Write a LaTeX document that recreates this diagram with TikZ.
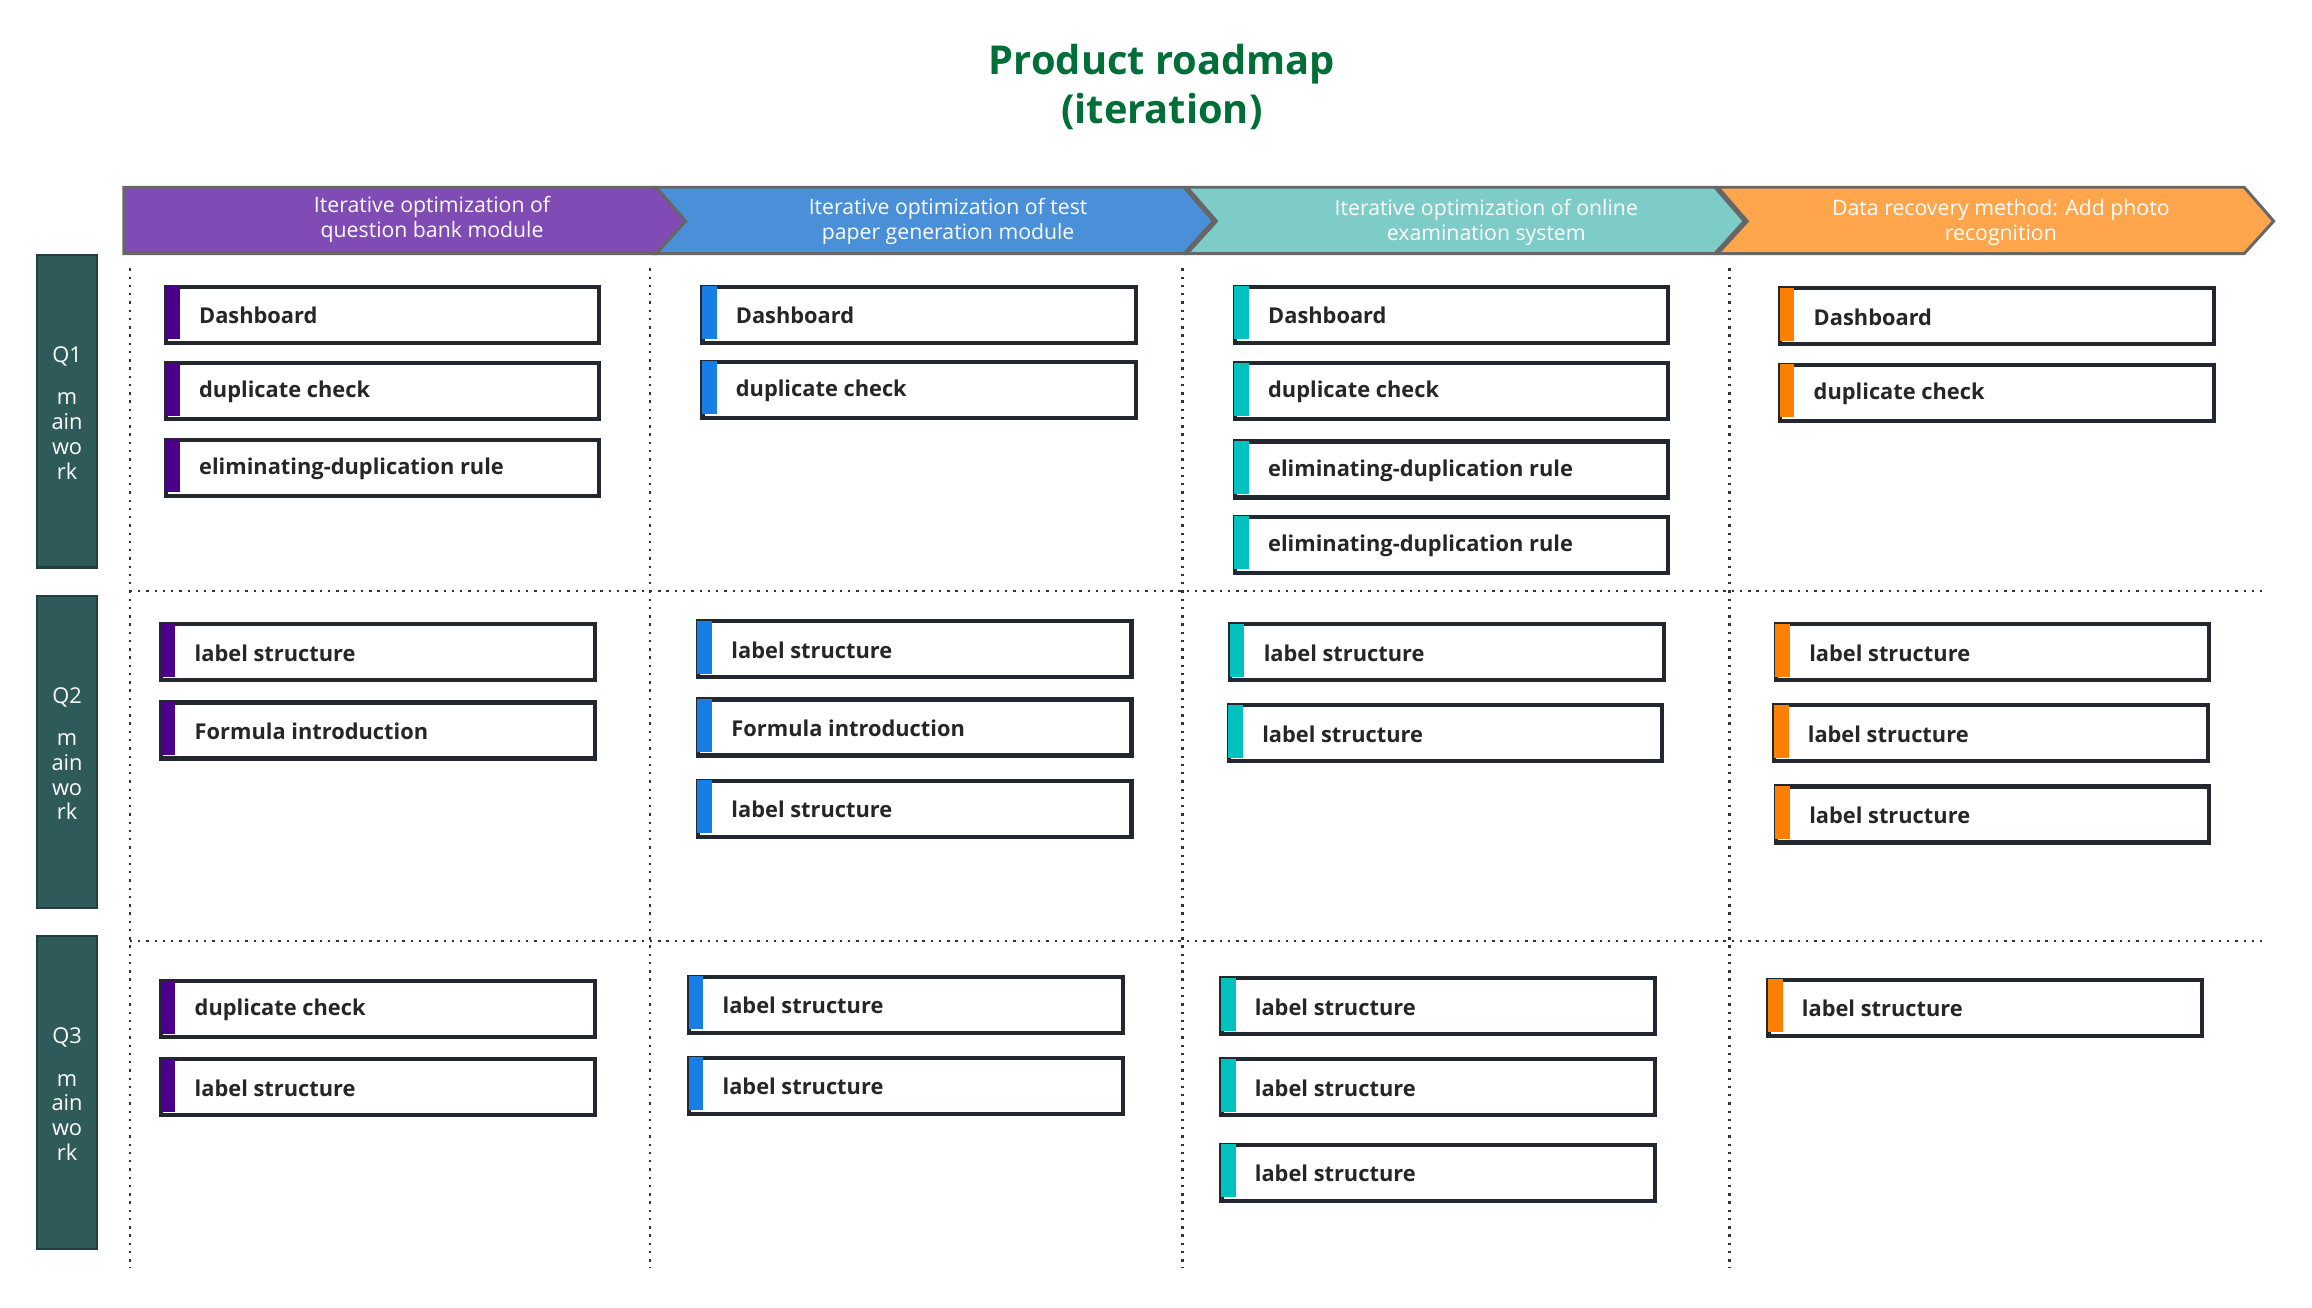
\documentclass[tikz,border=0pt]{standalone}
\usepackage{fontspec}
\setmainfont{Open Sans}
\usepackage{xcolor}
\usepackage{tikz}

\definecolor{titlegreen}{RGB}{0,110,55}
\definecolor{lanegray}{RGB}{47,90,90}
\definecolor{cpurple}{RGB}{128,75,180}
\definecolor{cblue}{RGB}{74,144,217}
\definecolor{cteal}{RGB}{126,204,200}
\definecolor{corange}{RGB}{255,166,77}
\definecolor{spurple}{RGB}{75,0,140}
\definecolor{sblue}{RGB}{24,126,230}
\definecolor{steal}{RGB}{0,192,192}
\definecolor{sorange}{RGB}{255,128,0}
\definecolor{boxline}{RGB}{35,40,48}

\tikzset{
	task/.style={draw=boxline, line width=1.4pt, fill=white, anchor=north west, inner sep=0pt,
		minimum width=147pt, minimum height=19pt},
	tasktext/.style={anchor=west, font=\fontsize{7.4}{8}\selectfont\bfseries, text=black!85},
	stage/.style={draw=gray!80!black, line width=1pt},
	stagetext/.style={text=white, align=center, font=\fontsize{7.2}{8.4}\selectfont},
	lane/.style={fill=lanegray, draw=lanegray!70!black, line width=0.8pt},
	lanetext/.style={text=white, align=center, font=\fontsize{7.4}{8.4}\selectfont},
	grid/.style={dotted, line width=0.8pt, black!80},
}

% box: name, x, y, strip colour, text
\newcommand\taskbox[5]{%
	\node[task] (#1) at (#2,#3) {};
	\fill[#4] (#2+1,#3+1) rectangle (#2+11,#3+37);
	\node[tasktext] (#1t) at (#2+17,#3+21) {#5};
}

\begin{document}
\begin{tikzpicture}[x=0.5pt,y=-0.5pt]
	\useasboundingbox (0,0) rectangle (1568,887);
	
	% title
	\node[text=titlegreen, font=\fontsize{13.5}{16.5}\selectfont\bfseries, align=center] (title) at (788,59) {Product roadmap\\(iteration)};
	
	% stages
	\draw[stage, fill=cpurple] (84,127) -- (445,127) -- (465,150) -- (445,172) -- (84,172) -- cycle;
	\foreach \xa/\xb/\col in {445/803/cblue, 805/1163/cteal, 1165/1522/corange}{
		\draw[stage, fill=\col] (\xa,127) -- (\xb,127) -- (\xb+20,150) -- (\xb,172) -- (\xa,172) -- (\xa+20,150) -- cycle;
	}
	\node[stagetext] (st1) at (293,149) {Iterative optimization of\\question bank module};
	\node[stagetext] (st2) at (643,150) {Iterative optimization of test\\paper generation module};
	\node[stagetext] (st3) at (1008,151) {Iterative optimization of online\\examination system};
	\node[stagetext] (st4) at (1357,151) {Data recovery method: Add photo\\recognition};
	
	% lanes
	\foreach \q/\ya/\yb in {1/173/385, 2/404/616, 3/635/847}{
		\draw[lane] (25,\ya) rectangle (66,\yb);
		\node[lanetext, anchor=north] (lane\q) at (45.5,\ya+55) {Q\q\\[6pt]m\\ain\\wo\\rk};
	}
	
	% grid
	\foreach \x in {88,441,802,1173}{
		\draw[grid] (\x,182) -- (\x,860);
	}
	\draw[grid] (88,401) -- (1535,401);
	\draw[grid] (88,638) -- (1535,638);
	
	% column 1
	\taskbox{a1}{111}{193}{spurple}{Dashboard}
	\taskbox{a2}{111}{245}{spurple}{duplicate check}
	\taskbox{a3}{111}{297}{spurple}{eliminating-duplication rule}
	\taskbox{a4}{108}{422}{spurple}{label structure}
	\taskbox{a5}{108}{475}{spurple}{Formula introduction}
	\taskbox{a6}{108}{664}{spurple}{duplicate check}
	\taskbox{a7}{108}{717}{spurple}{label structure}
	
	% column 2
	\taskbox{b1}{475}{193}{sblue}{Dashboard}
	\taskbox{b2}{475}{244}{sblue}{duplicate check}
	\taskbox{b3}{472}{420}{sblue}{label structure}
	\taskbox{b4}{472}{473}{sblue}{Formula introduction}
	\taskbox{b5}{472}{528}{sblue}{label structure}
	\taskbox{b6}{466}{661}{sblue}{label structure}
	\taskbox{b7}{466}{716}{sblue}{label structure}
	
	% column 3
	\taskbox{c1}{836}{193}{steal}{Dashboard}
	\taskbox{c2}{836}{245}{steal}{duplicate check}
	\taskbox{c3}{836}{298}{steal}{eliminating-duplication rule}
	\taskbox{c4}{836}{349}{steal}{eliminating-duplication rule}
	\taskbox{c5}{833}{422}{steal}{label structure}
	\taskbox{c6}{832}{477}{steal}{label structure}
	\taskbox{c7}{827}{662}{steal}{label structure}
	\taskbox{c8}{827}{717}{steal}{label structure}
	\taskbox{c9}{827}{775}{steal}{label structure}
	
	% column 4
	\taskbox{d1}{1206}{194}{sorange}{Dashboard}
	\taskbox{d2}{1206}{246}{sorange}{duplicate check}
	\taskbox{d3}{1203}{422}{sorange}{label structure}
	\taskbox{d4}{1202}{477}{sorange}{label structure}
	\taskbox{d5}{1203}{532}{sorange}{label structure}
	\taskbox{d6}{1198}{663}{sorange}{label structure}
\end{tikzpicture}
\end{document}
